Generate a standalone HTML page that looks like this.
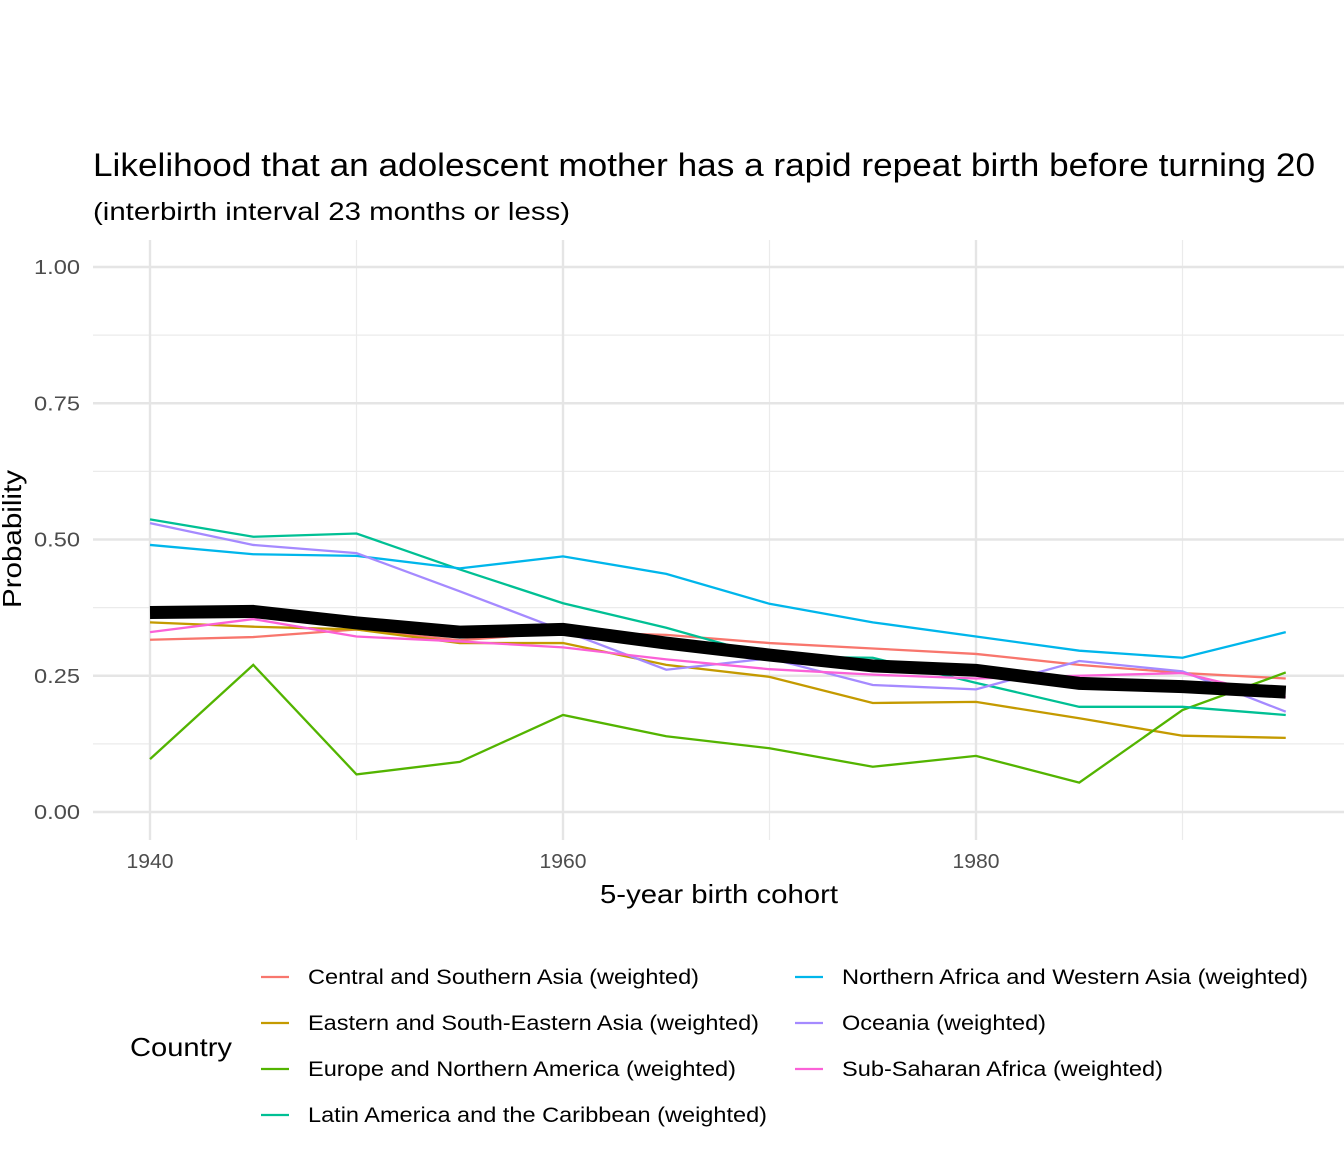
<!DOCTYPE html>
<html><head><meta charset="utf-8"><style>
body{margin:0;background:#fff;font-family:"Liberation Sans",Arial,sans-serif}
svg text{font-family:"Liberation Sans",Arial,sans-serif}
</style></head><body>
<svg id="chart" width="1344" height="1152" viewBox="0 0 1344 1152">
<text x="93" y="176" font-size="32" textLength="1222" lengthAdjust="spacingAndGlyphs" fill="#000">Likelihood that an adolescent mother has a rapid repeat birth before turning 20</text>
<text x="93" y="220" font-size="25" textLength="477" lengthAdjust="spacingAndGlyphs" fill="#000">(interbirth interval 23 months or less)</text>
<g id="grid"></g><g id="series"></g><g id="axes"></g><g id="legend"></g>
<text transform="translate(21,539) rotate(-90)" text-anchor="middle" font-size="26" textLength="138" lengthAdjust="spacingAndGlyphs" fill="#000">Probability</text>
<text x="719" y="903" text-anchor="middle" font-size="26" textLength="238" lengthAdjust="spacingAndGlyphs" fill="#000">5-year birth cohort</text>
</svg>
<script>
const years=[1940,1945,1950,1955,1960,1965,1970,1975,1980,1985,1990,1995];
const seriesNames=["Central and Southern Asia (weighted)","Eastern and South-Eastern Asia (weighted)","Europe and Northern America (weighted)","Latin America and the Caribbean (weighted)","Northern Africa and Western Asia (weighted)","Oceania (weighted)","Sub-Saharan Africa (weighted)"];
const centralSouthernAsia=[0.316,0.321,0.335,0.315,0.33,0.325,0.31,0.30,0.29,0.27,0.255,0.245];
const easternSEAsia=[0.348,0.34,0.335,0.31,0.31,0.27,0.248,0.20,0.202,0.172,0.14,0.136];
const europeNA=[0.097,0.27,0.069,0.092,0.178,0.139,0.117,0.083,0.103,0.054,0.187,0.256];
const latinAmerica=[0.537,0.505,0.511,0.445,0.383,0.338,0.285,0.283,0.237,0.193,0.193,0.178];
const nAfricaWAsia=[0.49,0.473,0.47,0.447,0.469,0.437,0.382,0.348,0.322,0.296,0.283,0.33];
const oceania=[0.53,0.49,0.475,0.405,0.333,0.261,0.282,0.233,0.225,0.277,0.258,0.184];
const subSaharan=[0.33,0.354,0.322,0.313,0.302,0.28,0.262,0.252,0.245,0.25,0.255,0.21];
const overall=[0.366,0.368,0.347,0.33,0.335,0.31,0.288,0.268,0.26,0.236,0.23,0.22];
const yTicks=[0,0.25,0.5,0.75,1.0];
const yTickLabels=["0.00","0.25","0.50","0.75","1.00"];
const xTicks=[1940,1960,1980];
const colors=["#F8766D","#C49A00","#53B400","#00C094","#00B6EB","#A58AFF","#FB61D7"];
const allSeries=[centralSouthernAsia,easternSEAsia,europeNA,latinAmerica,nAfricaWAsia,oceania,subSaharan];
const legendWidths=[391,451,428,459,466,204,321];
const NS="http://www.w3.org/2000/svg";
const X=v=>150+(v-1940)*20.65, Y=v=>812-v*545;
const L=93,R=1344,T=240,B=840;
function mk(t,a,p){const e=document.createElementNS(NS,t);for(const k in a)e.setAttribute(k,a[k]);p.appendChild(e);return e;}
const g=document.getElementById('grid');
for(let v=0.125;v<1;v+=0.25){const l=mk('line',{x1:L,x2:R,y1:Y(v),y2:Y(v),stroke:'#ebebeb','stroke-width':1.2},g);

}
[1950,1970,1990].forEach(v=>{const l=mk('line',{x1:X(v),x2:X(v),y1:T,y2:B,stroke:'#ebebeb','stroke-width':1.2},g);

});
const ax=document.getElementById('axes');
yTicks.forEach((v,i)=>{const l=mk('line',{x1:L,x2:R,y1:Y(v),y2:Y(v),stroke:'#e5e5e5','stroke-width':2.4},g);


const t=mk('text',{x:80,y:Y(v)+7,'text-anchor':'end','font-size':20,textLength:46,lengthAdjust:'spacingAndGlyphs',fill:'#4d4d4d'},ax);t.textContent=yTickLabels[i];

});
xTicks.forEach(v=>{const l=mk('line',{x1:X(v),x2:X(v),y1:T,y2:B,stroke:'#e5e5e5','stroke-width':2.4},g);


const t=mk('text',{x:X(v),y:868,'text-anchor':'middle','font-size':20,textLength:47,lengthAdjust:'spacingAndGlyphs',fill:'#4d4d4d'},ax);t.textContent=v;

});
const s=document.getElementById('series');
allSeries.forEach((d,i)=>{const p=mk('polyline',{points:d.map((v,j)=>X(years[j])+','+Y(v)).join(' '),fill:'none',stroke:colors[i],'stroke-width':2.3},s);

});
const o=mk('polyline',{points:overall.map((v,j)=>X(years[j])+','+Y(v)).join(' '),fill:'none',stroke:'#000','stroke-width':13},s);


const lg=document.getElementById('legend');
const lt=mk('text',{x:130,y:1056,'font-size':26,textLength:102,lengthAdjust:'spacingAndGlyphs',fill:'#000'},lg);lt.textContent='Country';


seriesNames.forEach((n,i)=>{const col=i<4?0:1,row=i<4?i:i-4;const kx=col?795:261,ty=977+row*46;
const k=mk('line',{x1:kx,x2:kx+28,y1:ty,y2:ty,stroke:colors[i],'stroke-width':2.3},lg);


const t=mk('text',{x:col?842:308,y:ty+7,'font-size':21,textLength:legendWidths[i],lengthAdjust:'spacingAndGlyphs',fill:'#000'},lg);t.textContent=n;

});
</script>
</body></html>
